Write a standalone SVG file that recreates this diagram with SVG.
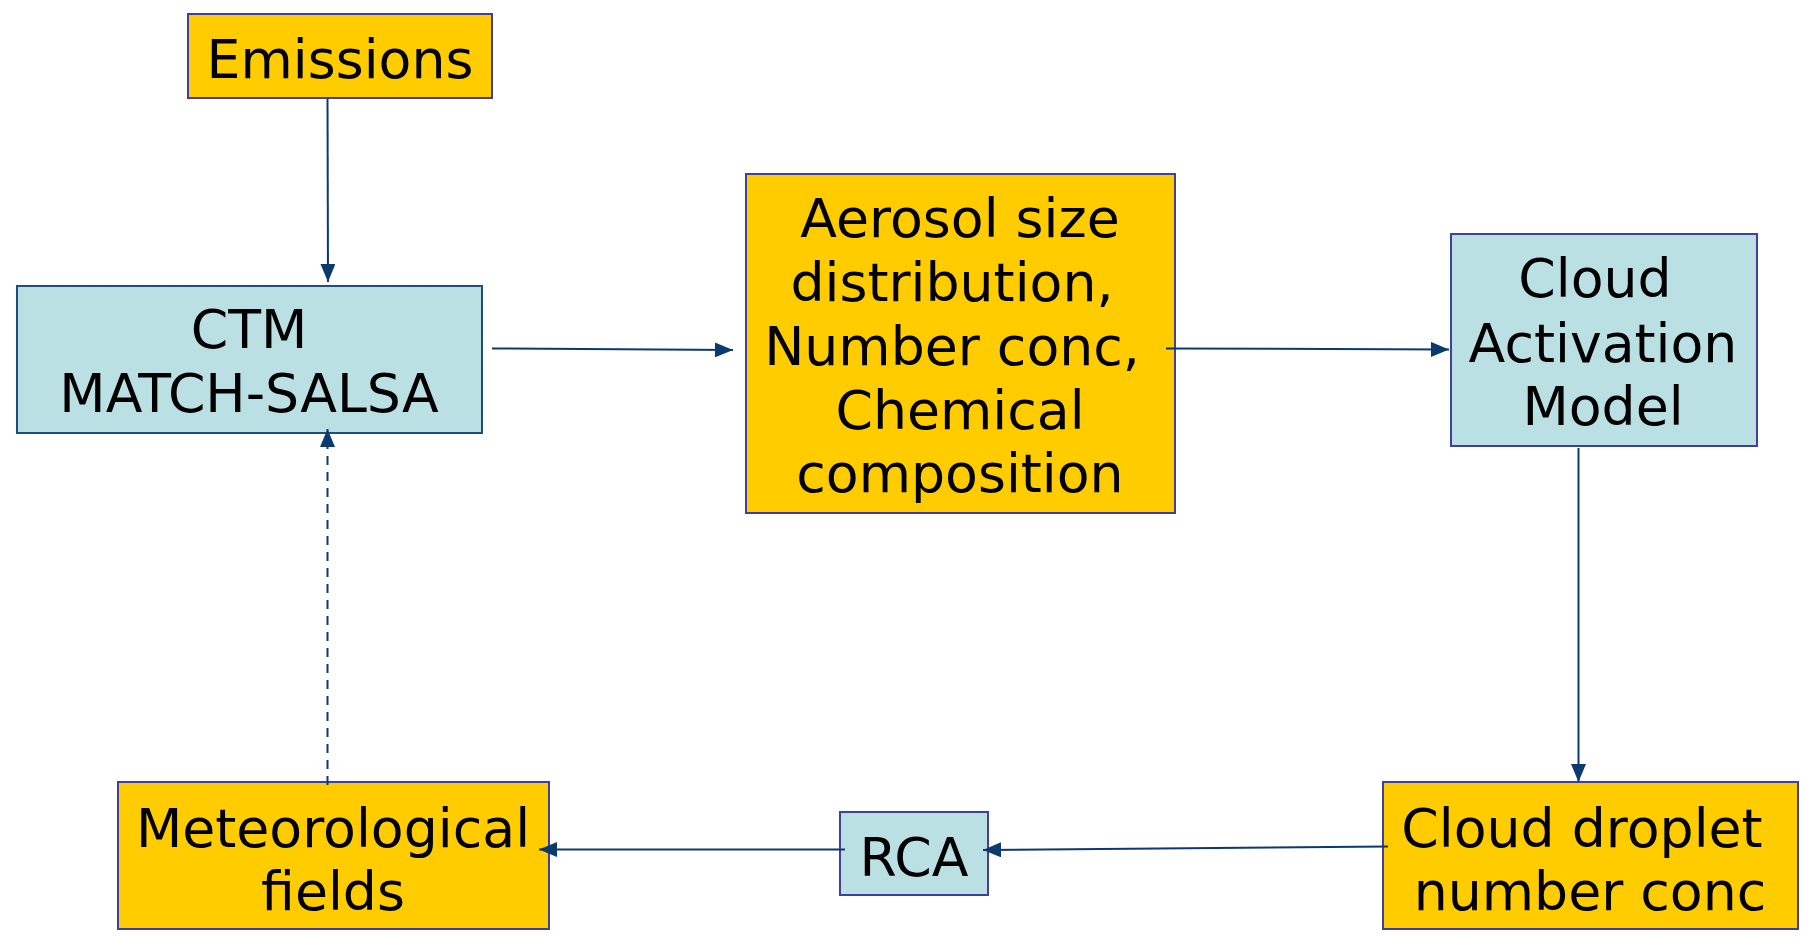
<svg xmlns="http://www.w3.org/2000/svg" width="1801" height="937" viewBox="0 0 1801 937">
<style>
.y{fill:#FFCC00;stroke:#3F3F9F;stroke-width:2}
.b{fill:#BAE0E3;stroke:#3F3F9F;stroke-width:2}
.t{font-family:"DejaVu Sans",sans-serif;font-size:53.7px;fill:#000;text-anchor:middle}
.c{stroke:#0B3A6E;stroke-width:2;fill:none}
</style>
<defs>
<marker id="a" viewBox="0 0 18 15" refX="18" refY="7.5" markerWidth="18" markerHeight="15" markerUnits="userSpaceOnUse" orient="auto">
<path d="M0,0 L18,7.5 L0,15 z" fill="#0B3A6E"/>
</marker>
</defs>
<g id="emissions">
<rect class="y" x="188" y="14" width="304" height="84"/>
<text class="t" x="340" y="78">Emissions</text>
</g>
<g id="ctm">
<rect class="b" x="17" y="286" width="465" height="147" style="stroke:#1F4E79"/>
<text class="t" x="249" y="348">CTM</text>
<text class="t" x="249" y="412">MATCH-SALSA</text>
</g>
<g id="aerosol">
<rect class="y" x="746" y="174" width="429" height="339"/>
<text class="t" x="960" y="237">Aerosol size</text>
<text class="t" x="952" y="301">distribution,</text>
<text class="t" x="952" y="365">Number conc,</text>
<text class="t" x="960" y="429">Chemical</text>
<text class="t" x="960" y="492">composition</text>
</g>
<g id="cloud-activation">
<rect class="b" x="1451" y="234" width="306" height="212"/>
<text class="t" x="1595" y="297">Cloud</text>
<text class="t" x="1603" y="362">Activation</text>
<text class="t" x="1603" y="425">Model</text>
</g>
<g id="cloud-droplet">
<rect class="y" x="1383" y="782" width="415" height="147"/>
<text class="t" x="1582" y="847">Cloud droplet</text>
<text class="t" x="1590" y="910">number conc</text>
</g>
<g id="rca">
<rect class="b" x="840" y="812" width="148" height="83"/>
<text class="t" x="914" y="876">RCA</text>
</g>
<g id="meteorological">
<rect class="y" x="118" y="782" width="431" height="147"/>
<text class="t" x="333" y="847">Meteorological</text>
<text class="t" x="333" y="910">fields</text>
</g>
<g id="connectors">
<line class="c" x1="327.5" y1="99" x2="328" y2="282" marker-end="url(#a)"/>
<line class="c" x1="492" y1="348.5" x2="733" y2="350" marker-end="url(#a)"/>
<line class="c" x1="1166" y1="348.5" x2="1449" y2="349.5" marker-end="url(#a)"/>
<line class="c" x1="1578.5" y1="448" x2="1578.5" y2="782" marker-end="url(#a)"/>
<line class="c" x1="1388" y1="846.5" x2="983" y2="850" marker-end="url(#a)"/>
<line class="c" x1="845" y1="849.5" x2="539" y2="849.5" marker-end="url(#a)"/>
<line class="c" x1="327.5" y1="785" x2="327.5" y2="429" stroke-dasharray="9,7" marker-end="url(#a)"/>
</g>
</svg>
